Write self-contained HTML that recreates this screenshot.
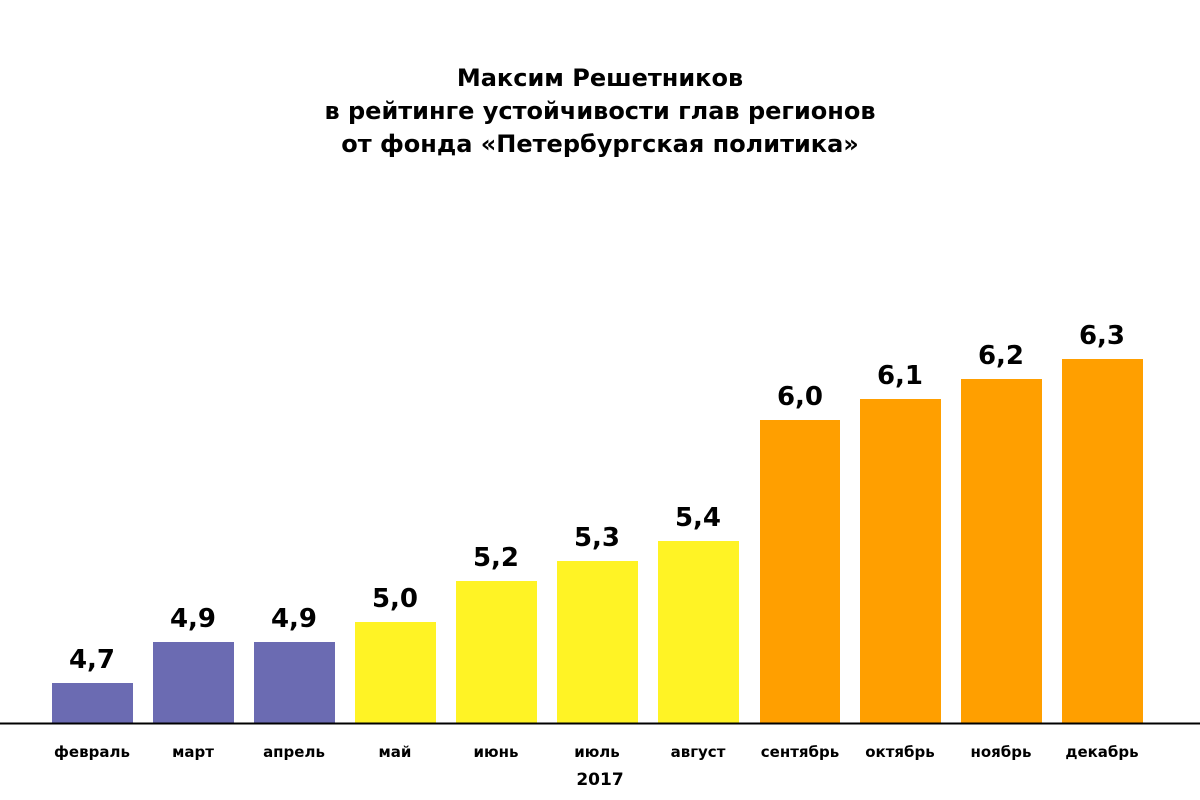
<!DOCTYPE html>
<html><head><meta charset="utf-8"><style>
html,body{margin:0;padding:0;background:#fff;}
svg{display:block;}
text{font-family:"DejaVu Sans","Liberation Sans",sans-serif;font-weight:bold;fill:#000;}
</style></head><body>
<svg width="1200" height="800" viewBox="0 0 1200 800" xmlns="http://www.w3.org/2000/svg">
<rect width="1200" height="800" fill="#fff"/>
<g text-anchor="middle" font-size="24">
<text x="600" y="86">Максим Решетников</text>
<text x="600" y="119">в рейтинге устойчивости глав регионов</text>
<text x="600" y="152">от фонда «Петербургская политика»</text>
</g>
<g>
<rect x="52" y="683" width="81" height="40" fill="#6b6bb2"/>
<rect x="153" y="642" width="81" height="81" fill="#6b6bb2"/>
<rect x="254" y="642" width="81" height="81" fill="#6b6bb2"/>
<rect x="355" y="622" width="81" height="101" fill="#fff325"/>
<rect x="456" y="581" width="81" height="142" fill="#fff325"/>
<rect x="557" y="561" width="81" height="162" fill="#fff325"/>
<rect x="658" y="541" width="81" height="182" fill="#fff325"/>
<rect x="760" y="420" width="80" height="303" fill="#ff9f00"/>
<rect x="860" y="399" width="81" height="324" fill="#ff9f00"/>
<rect x="961" y="379" width="81" height="344" fill="#ff9f00"/>
<rect x="1062" y="359" width="81" height="364" fill="#ff9f00"/>
</g>
<line x1="0" y1="723.5" x2="1200" y2="723.5" stroke="#000" stroke-width="2"/>
<g text-anchor="middle" font-size="26">
<text x="92" y="668">4,7</text>
<text x="193" y="627">4,9</text>
<text x="294" y="627">4,9</text>
<text x="395" y="607">5,0</text>
<text x="496" y="566">5,2</text>
<text x="597" y="546">5,3</text>
<text x="698" y="526">5,4</text>
<text x="800" y="405">6,0</text>
<text x="900" y="384">6,1</text>
<text x="1001" y="364">6,2</text>
<text x="1102" y="344">6,3</text>
</g>
<g text-anchor="middle" font-size="15">
<text x="92" y="757">февраль</text>
<text x="193" y="757">март</text>
<text x="294" y="757">апрель</text>
<text x="395" y="757">май</text>
<text x="496" y="757">июнь</text>
<text x="597" y="757">июль</text>
<text x="698" y="757">август</text>
<text x="800" y="757">сентябрь</text>
<text x="900" y="757">октябрь</text>
<text x="1001" y="757">ноябрь</text>
<text x="1102" y="757">декабрь</text>
<text x="600" y="785" font-size="17">2017</text>
</g>
</svg>
</body></html>
